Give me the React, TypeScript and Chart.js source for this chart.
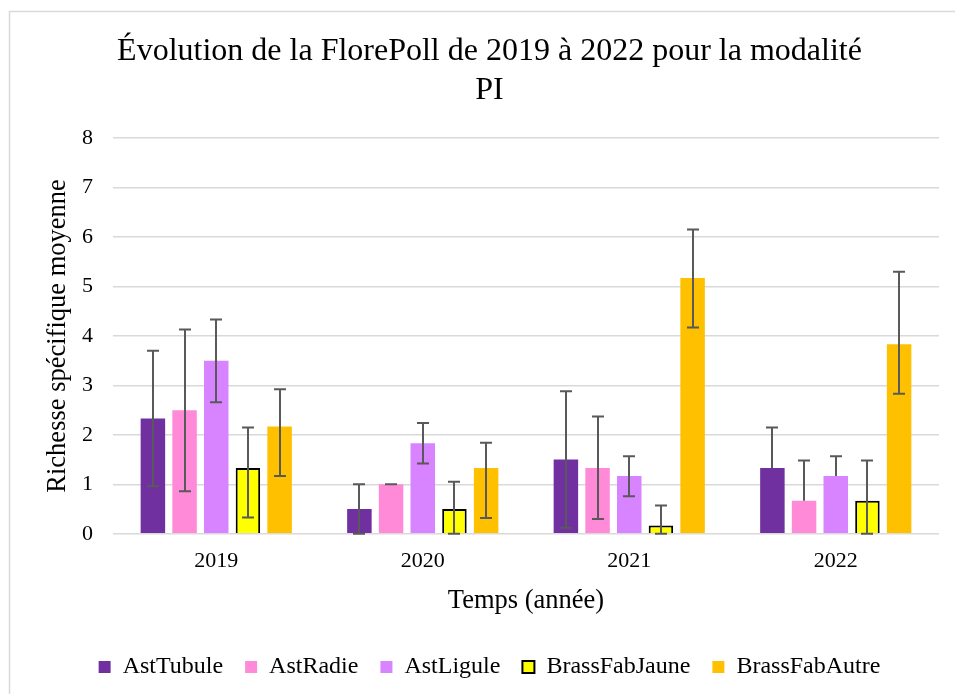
import React, { useEffect, useRef } from "react";
import { Chart, registerables } from "chart.js";

Chart.register(...registerables);

const categories = ["2019", "2020", "2021", "2022"];
const seriesNames = ["AstTubule", "AstRadie", "AstLigule", "BrassFabJaune", "BrassFabAutre"];

const astTubule = [2.33, 0.5, 1.5, 1.33];
const astRadie = [2.5, 1.0, 1.33, 0.67];
const astLigule = [3.5, 1.83, 1.17, 1.17];
const brassFabJaune = [1.33, 0.5, 0.17, 0.67];
const brassFabAutre = [2.17, 1.33, 5.17, 3.83];

const astTubuleHigh = [3.7, 1.0, 2.88, 2.15];
const astTubuleLow = [0.96, 0, 0.12, null];
const astRadieHigh = [4.13, 1.0, 2.37, 1.48];
const astRadieLow = [0.86, 1.0, 0.3, null];
const astLiguleHigh = [4.33, 2.24, 1.57, 1.57];
const astLiguleLow = [2.66, 1.42, 0.76, null];
const brassFabJauneHigh = [2.15, 1.05, 0.57, 1.48];
const brassFabJauneLow = [0.33, 0, 0, 0];
const brassFabAutreHigh = [2.92, 1.84, 6.15, 5.3];
const brassFabAutreLow = [1.17, 0.32, 4.17, 2.83];

const yTicks = [0, 1, 2, 3, 4, 5, 6, 7, 8];

const FONT = "'Liberation Serif', 'Times New Roman', serif";

const errorBarsPlugin = {
  id: "errorBars",
  afterDatasetsDraw(chart: any) {
    const ctx = chart.ctx;
    const y = chart.scales.y;
    ctx.save();
    ctx.strokeStyle = "#595959";
    ctx.lineWidth = 2;
    const cap = 6;
    chart.data.datasets.forEach((ds: any, di: number) => {
      const meta = chart.getDatasetMeta(di);
      meta.data.forEach((bar: any, i: number) => {
        const hi = ds.errHigh[i];
        const lo = ds.errLow[i];
        const x = Math.round(bar.x);
        const yHi = y.getPixelForValue(hi);
        const yLo = lo === null ? y.getPixelForValue(ds.data[i]) : y.getPixelForValue(lo);
        ctx.beginPath();
        ctx.moveTo(x, yHi);
        ctx.lineTo(x, yLo);
        ctx.moveTo(x - cap, yHi);
        ctx.lineTo(x + cap, yHi);
        if (lo !== null) {
          ctx.moveTo(x - cap, yLo);
          ctx.lineTo(x + cap, yLo);
        }
        ctx.stroke();
      });
    });
    ctx.restore();
  },
};

const framePlugin = {
  id: "frame",
  beforeDraw(chart: any) {
    const ctx = chart.ctx;
    ctx.save();
    ctx.fillStyle = "#ffffff";
    ctx.fillRect(0, 0, chart.width, chart.height);
    ctx.strokeStyle = "#d9d9d9";
    ctx.lineWidth = 1.5;
    ctx.beginPath();
    ctx.moveTo(9.5, chart.height);
    ctx.lineTo(9.5, 11.5);
    ctx.lineTo(chart.width, 11.5);
    ctx.stroke();
    ctx.restore();
  },
};

export default function App() {
  const ref = useRef<HTMLCanvasElement>(null);

  useEffect(() => {
    if (!ref.current) return;
    const values = [astTubule, astRadie, astLigule, brassFabJaune, brassFabAutre];
    const highs = [astTubuleHigh, astRadieHigh, astLiguleHigh, brassFabJauneHigh, brassFabAutreHigh];
    const lows = [astTubuleLow, astRadieLow, astLiguleLow, brassFabJauneLow, brassFabAutreLow];
    const colors = ["#7030A0", "#FF8AD8", "#D883FF", "#FFFF00", "#FFC000"];
    const datasets = seriesNames.map((name, i) => ({
      label: name,
      data: values[i],
      errHigh: highs[i],
      errLow: lows[i],
      backgroundColor: colors[i],
      borderColor: i === 3 ? "#000000" : colors[i],
      borderWidth: i === 3 ? 2 : 0,
      categoryPercentage: 0.767,
      barPercentage: 0.773,
    }));

    const chart = new Chart(ref.current, {
      type: "bar",
      data: { labels: categories, datasets: datasets as any },
      plugins: [framePlugin, errorBarsPlugin],
      options: {
        animation: false,
        responsive: false,
        devicePixelRatio: 1,
        layout: { padding: { top: 12, left: 40, right: 41, bottom: 31 } },
        plugins: {
          title: {
            display: true,
            text: ["Évolution de la FlorePoll de 2019 à 2022 pour la modalité", "PI"],
            color: "#000000",
            font: { family: FONT, size: 32, weight: "normal", lineHeight: 1.22 },
            padding: { top: 20, bottom: 28 },
          },
          legend: {
            position: "bottom",
            labels: {
              color: "#000000",
              font: { family: FONT, size: 24 },
              boxWidth: 12,
              boxHeight: 12,
              padding: 22,
            },
          },
          tooltip: { enabled: false },
        },
        scales: {
          x: {
            grid: { display: false, drawTicks: false },
            border: { display: false },
            ticks: { color: "#000000", font: { family: FONT, size: 22 }, padding: 14 },
            title: {
              display: true,
              text: "Temps (année)",
              color: "#000000",
              font: { family: FONT, size: 26.5 },
              padding: { top: -3, bottom: 16 },
            },
          },
          y: {
            min: 0,
            max: 8,
            afterBuildTicks: (axis: any) => {
              axis.ticks = yTicks.map((v) => ({ value: v }));
            },
            afterFit: (axis: any) => {
              axis.width = 73;
            },
            grid: { color: "#d9d9d9", lineWidth: 1.5, drawTicks: false },
            border: { display: false },
            ticks: { color: "#000000", font: { family: FONT, size: 22 }, padding: 20 },
            title: {
              display: true,
              text: "Richesse spécifique moyenne",
              color: "#000000",
              font: { family: FONT, size: 26.5 },
              padding: { top: 2, bottom: 5 },
            },
          },
        },
      } as any,
    });
    return () => chart.destroy();
  }, []);

  return (
    <div style={{ position: "fixed", left: 0, top: 0, width: 955, height: 694, overflow: "hidden", background: "#fff" }}>
      <canvas ref={ref} width={980} height={720} style={{ display: "block" }} />
    </div>
  );
}
